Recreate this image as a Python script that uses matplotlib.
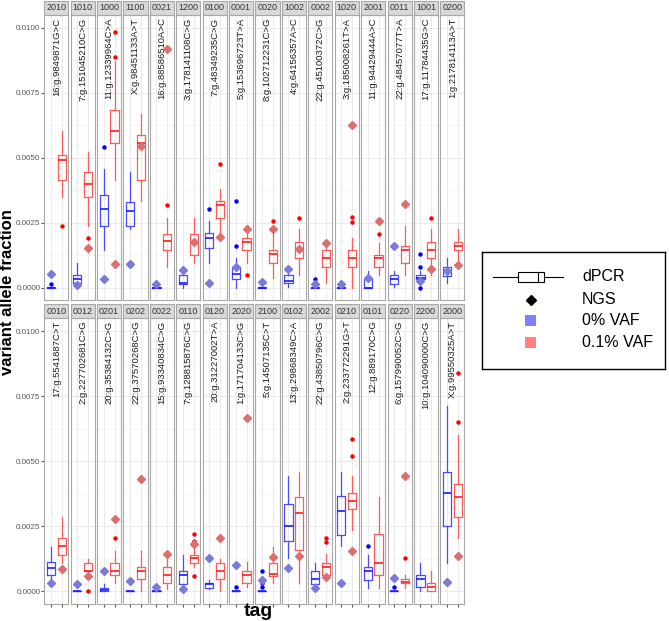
import matplotlib
matplotlib.use("Agg")
import matplotlib.pyplot as plt
from matplotlib.patches import Rectangle

plt.rcParams['font.family'] = ['Liberation Sans', 'DejaVu Sans']

nan = float('nan')

# facet tags and variant names (top row, then bottom row)
tags = ['2010', '1010', '1000', '1100', '0021', '1200', '0100', '0001',
        '0020', '1002', '0002', '1020', '2001', '0011', '1001', '0200',
        '0010', '0012', '0201', '0202', '0022', '0110', '0120', '2020',
        '2100', '0102', '2002', '0210', '0101', '0220', '2200', '2000']
variants = ['16:g.9849871G>C', '7:g.151045210C>G', '11:g.12339964C>A', 'X:g.98451133A>T',
            '16:g.88586510A>C', '3:g.178141108C>G', '7:g.48349235C>G', '5:g.153696723T>A',
            '8:g.102712231C>G', '4:g.64156357A>C', '22:g.45100372C>G', '3:g.185008261T>A',
            '11:g.94429444A>C', '22:g.48457077T>A', '17:g.11784435G>C', '1:g.217814113A>T',
            '17:g.5541887C>T', '2:g.227702681C>G', '20:g.35384132C>G', '22:g.37570268C>G',
            '15:g.93340834C>G', '7:g.128815876C>G', '20:g.31227002T>A', '1:g.171704133C>G',
            '5:g.14507135C>T', '13:g.29868349C>A', '22:g.43850796C>G', '2:g.233772291G>T',
            '12:g.889170C>G', '6:g.157990052C>G', '10:g.104090000C>G', 'X:g.99550325A>T']

# dPCR box stats per facet: (lower whisker, q1, median, q3, upper whisker)
blue_box = [(0, 0, 0, 0.00002, 0.00002), (0.00006, 0.00017, 0.00032, 0.00047, 0.00096),
            (0.00145, 0.00237, 0.00303, 0.00358, 0.00458), (0.00224, 0.00237, 0.00295, 0.00331, 0.00445),
            (0, 0, 0, 0.00002, 0.00002), (0, 0.00015, 0.00018, 0.00047, 0.00067),
            (0.00096, 0.00154, 0.00192, 0.00212, 0.00256), (0, 0.00032, 0.00051, 0.0008, 0.00112),
            (0, 0, 0, 0.00002, 0.00002), (0.00003, 0.00017, 0.00024, 0.00047, 0.00071),
            (0, 0, 0, 0.00002, 0.00002), (0, 0, 0, 0.00002, 0.00002),
            (0, 0, 0, 0.00032, 0.00062), (0.00003, 0.00015, 0.00032, 0.00047, 0.00062),
            (0.00019, 0.00032, 0.00038, 0.00047, 0.00062), (0.00019, 0.00045, 0.00062, 0.0008, 0.00112),
            (0.00034, 0.00064, 0.00089, 0.00112, 0.00172), (0, 0, 0, 0.00002, 0.00002),
            (0, 0, 0.00006, 0.00014, 0.00029), (0, 0, 0, 0.00002, 0.00002),
            (0, 0, 0, 0.00002, 0.00002), (0.00009, 0.00029, 0.00064, 0.00078, 0.0014),
            (0.00009, 0.00014, 0.00027, 0.00032, 0.00045), (0, 0, 0, 0.00002, 0.00002),
            (0, 0, 0, 0.00002, 0.00002), (0.00128, 0.00192, 0.00253, 0.00336, 0.00442),
            (0.00009, 0.00029, 0.00047, 0.00079, 0.0011), (0.00174, 0.00217, 0.00308, 0.00367, 0.00457),
            (0.00014, 0.00045, 0.00079, 0.00093, 0.0014), (0, 0, 0, 0.00002, 0.00002),
            (0, 0.00017, 0.00047, 0.00064, 0.0011), (0.0011, 0.00253, 0.00379, 0.00457, 0.00713)]
red_box = [(0.0035, 0.00413, 0.00491, 0.00509, 0.00603), (0.00237, 0.0035, 0.00397, 0.00445, 0.00523),
           (0.00414, 0.00555, 0.00604, 0.00683, 0.00872), (0.00333, 0.00413, 0.00556, 0.00587, 0.00667),
           (0.0008, 0.00144, 0.00178, 0.00206, 0.00269), (0.00096, 0.00127, 0.00177, 0.00206, 0.00269),
           (0.00199, 0.00269, 0.00318, 0.00333, 0.00381), (0.00096, 0.00144, 0.00177, 0.00192, 0.00224),
           (0.00035, 0.00096, 0.00128, 0.00145, 0.00205), (0.00047, 0.00112, 0.00147, 0.00176, 0.00224),
           (0.00017, 0.00081, 0.00113, 0.00144, 0.00173), (0, 0.00081, 0.00113, 0.00144, 0.00191),
           (0.00047, 0.00081, 0.00113, 0.00127, 0.00173), (0.00047, 0.00096, 0.00145, 0.0016, 0.00237),
           (0.00047, 0.00112, 0.00145, 0.00176, 0.00224), (0.00096, 0.00144, 0.0016, 0.00176, 0.00224),
           (0.00109, 0.00142, 0.00175, 0.00206, 0.00285), (0.00079, 0.00079, 0.0008, 0.0011, 0.00126),
           (0.00034, 0.00064, 0.00079, 0.0011, 0.00157), (0, 0.00049, 0.0008, 0.00095, 0.00157),
           (0.0001, 0.00032, 0.00064, 0.00095, 0.00151), (0.00093, 0.0011, 0.00129, 0.00142, 0.00172),
           (0, 0.00049, 0.0008, 0.0011, 0.00125), (0.00017, 0.00032, 0.00064, 0.00079, 0.00112),
           (0.00032, 0.00061, 0.00068, 0.0011, 0.0017), (0.00032, 0.0016, 0.00301, 0.00361, 0.00457),
           (0.00049, 0.00064, 0.00093, 0.0011, 0.00145), (0.00236, 0.00317, 0.00349, 0.00378, 0.00442),
           (0.00014, 0.00064, 0.0011, 0.00221, 0.00361), (0.00014, 0.00032, 0.00038, 0.00047, 0.00064),
           (0, 0, 0.00017, 0.00032, 0.00079), (0.00206, 0.00285, 0.00364, 0.00413, 0.006)]

# dPCR outlier points
blue_out = [[0.00015], [], [0.00541], [], [0.00015], [], [0.00301], [0.0016, 0.00335],
            [], [], [0.00017, 0.00032], [0.00012], [], [], [0.00128, 0.0008, 0], [],
            [], [], [], [], [], [], [], [0.00017],
            [0.0008, 0.00045, 0.00032, 0.00017], [], [], [], [0.00174], [0.00017], [], []]
red_out = [[0.00238], [0.00191], [0.00888, 0.00985], [], [0.00318], [], [0.00477], [0.00049],
           [0.00256], [0.00269], [], [0.00254, 0.0027], [0.00208], [], [0.00269], [0.00083],
           [], [0], [0.00204], [], [], [0.00221, 0.00195, 0.00061], [], [],
           [], [], [0.00206, 0.00189], [0.00521, 0.00585], [], [0.00128], [], [0.00649, 0.0084]]

# NGS values (nan where no diamond is shown)
blue_ngs = [0.00051, 0.0001, 0.00032, 0.0009, 0.00012, 0.00067, 0.00017, 0.0008,
            0.00022, 0.00071, 0.00013, 0.00012, 0.00038, 0.0016, 0.00026, 0.00062,
            0.00034, 0.00029, 0.00079, 0.0004, 0.00017, 0.00009, 0.00128, 0.001,
            0.00045, 0.00089, 0.00014, 0.00034, nan, 0.00052, nan, 0.00036]
red_ngs = [nan, 0.00153, 0.0009, 0.00545, 0.00919, 0.00177, 0.00196, 0.00224,
           0.00227, 0.0015, 0.0017, 0.00627, 0.00256, 0.0032, 0.00071, 0.00087,
           0.00087, 0.00059, 0.00278, 0.00432, 0.00144, 0.00183, 0.00206, 0.00668,
           0.00132, 0.00135, 0.00057, 0.00156, nan, 0.00442, nan, 0.00138]

yticks = [0, 0.0025, 0.005, 0.0075, 0.01]
ytick_labels = ['0.0000', '0.0025', '0.0050', '0.0075', '0.0100']

W, H = 669, 621
fig = plt.figure(figsize=(W / 100, H / 100), dpi=100)

blue_line, red_line = '#4a4aff', '#ff5a5a'
blue_med, red_med = '#1a1aff', '#ff1a1a'
blue_pt, red_pt = '#0000ff', '#ff0000'
blue_dia, red_dia = '#7a7ad8', '#dc6e6e'

rows = [(15, 300, 1), (318, 604, 304)]  # panel top, panel bottom, strip top (px)
for i in range(32):
    r, c = divmod(i, 16)
    top, bot, stop = rows[r]
    left = 44.3 + c * 26.4
    ax = fig.add_axes([left / W, 1 - bot / H, 24.0 / W, (bot - top) / H])
    ax.set_xlim(0.4, 2.6)
    ax.set_ylim(-0.00048, 0.0105)

    # grid
    ax.set_yticks(yticks)
    ax.set_yticks([0.00125, 0.00375, 0.00625, 0.00875], minor=True)
    ax.set_xticks([1, 2])
    ax.grid(True, which='major', color='#ebebeb', lw=0.8)
    ax.grid(True, which='minor', axis='y', color='#f3f3f3', lw=0.5)
    ax.set_axisbelow(True)

    for pos, box, out, lc, mc, pc in [(1, blue_box[i], blue_out[i], blue_line, blue_med, blue_pt),
                                      (2, red_box[i], red_out[i], red_line, red_med, red_pt)]:
        st = {'whislo': box[0], 'q1': box[1], 'med': box[2], 'q3': box[3],
              'whishi': box[4], 'fliers': out}
        ax.bxp([st], positions=[pos], widths=0.75, showcaps=False,
               boxprops=dict(color=lc, lw=0.9),
               whiskerprops=dict(color=lc, lw=0.9),
               medianprops=dict(color=mc, lw=1.2),
               flierprops=dict(marker='o', markersize=2.2, markerfacecolor=pc,
                               markeredgecolor=pc, linestyle='none'),
               manage_ticks=False)

    ax.plot([1], [blue_ngs[i]], marker='D', ms=3.7, color=blue_dia, mec=blue_dia,
            linestyle='none', zorder=4)
    ax.plot([2], [red_ngs[i]], marker='D', ms=3.7, color=red_dia, mec=red_dia,
            linestyle='none', zorder=4)

    ax.text(1.5, 0.0105 - 0.0001, variants[i], rotation=90, ha='center', va='top',
            fontsize=6.8, color='#1a1a1a')

    for s in ax.spines.values():
        s.set_color('#a8a8a8')
        s.set_linewidth(0.8)

    # y ticks only on first column, x ticks only on bottom row
    ax.tick_params(axis='y', which='both', length=0 if c else 2, color='#555555',
                   labelsize=5.8, labelcolor='#555555', pad=0.8)
    ax.tick_params(axis='y', which='minor', length=0)
    if c == 0:
        ax.set_yticklabels(ytick_labels)
    else:
        ax.set_yticklabels([])
    ax.tick_params(axis='x', length=2.5 if r == 1 else 0, color='#555555', labelbottom=False)

    # facet strip
    strip = Rectangle((0, 1), 1, (top - stop) / (bot - top), transform=ax.transAxes,
                      facecolor='#d9d9d9', edgecolor='#a8a8a8', lw=0.8, clip_on=False)
    ax.add_patch(strip)
    ax.text(0.5, 1 + (top - stop) / 2 / (bot - top), tags[i], transform=ax.transAxes,
            ha='center', va='center', fontsize=6.5, color='#333333')

# axis titles
fig.text(15.3 / W, 1 - 292 / H, 'variant allele fraction', rotation=90, ha='right', va='center',
         fontsize=12, fontweight='bold')
fig.text(258 / W, 1 - 612 / H, 'tag', ha='center', va='center', fontsize=14, fontweight='bold')

# legend drawn in pixel coordinates
lg = fig.add_axes([482 / W, 1 - 369 / H, 183 / W, 117 / H])
lg.set_xlim(482, 665)
lg.set_ylim(369, 252)
lg.set_xticks([])
lg.set_yticks([])
for s in lg.spines.values():
    s.set_color('black')
    s.set_linewidth(1.0)
lg.plot([493, 518], [277, 277], color='black', lw=0.8)
lg.plot([544, 563], [277, 277], color='black', lw=0.8)
lg.add_patch(Rectangle((518, 272), 26, 10, facecolor='white', edgecolor='black', lw=0.8))
lg.plot([538, 538], [272, 282], color='black', lw=0.8)
lg.plot([531], [300], marker='D', ms=5.5, color='black', linestyle='none')
lg.add_patch(Rectangle((525, 315), 11, 11, facecolor='#8080ff', edgecolor='none'))
lg.add_patch(Rectangle((525, 337), 11, 11, facecolor='#ff8080', edgecolor='none'))
for y, t in [(277, 'dPCR'), (300, 'NGS'), (321, '0% VAF'), (343, '0.1% VAF')]:
    lg.text(582, y, t, ha='left', va='center', fontsize=11.5)

fig.savefig('out.png', dpi=100)
